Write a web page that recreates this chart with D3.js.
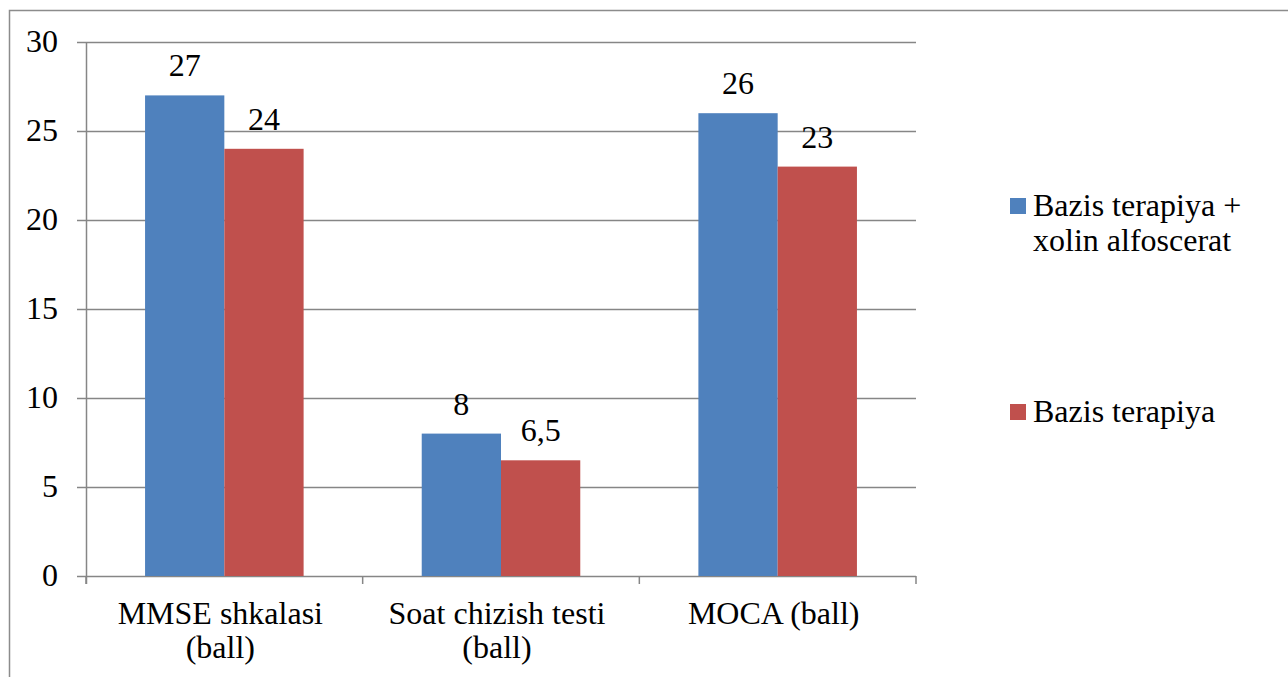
<!DOCTYPE html>
<html>
<head>
<meta charset="UTF-8" />
<script src="https://d3js.org/d3.v7.min.js"></script>
<style>
  body { margin: 0; background: #fff; }
</style>
</head>
<body>
<svg id="chart" width="1288" height="677"></svg>
<script>
// data
const categories = [["MMSE shkalasi", "(ball)"], ["Soat chizish testi", "(ball)"], ["MOCA (ball)"]];
const seriesNames = [["Bazis terapiya +", "xolin alfoscerat"], ["Bazis terapiya"]];
const seriesColors = ["#4F81BD", "#C0504D"];
const treated = [27, 8, 26];
const basic = [24, 6.5, 23];
const yTicks = [0, 5, 10, 15, 20, 25, 30];

const svg = d3.select("#chart");
const fmt = v => String(v).replace(".", ",");
const txt = sel => sel.style("font-family", "Liberation Serif").style("font-size", "32px").style("fill", "#000");

// outer frame (top + left visible)
svg.append("path").attr("d", "M9.5,677 V10.5 H1288")
  .attr("fill", "none").attr("stroke", "#8c8c8c").attr("stroke-width", 1.5);

const plotL = 86, plotR = 916, plotT = 42, plotB = 576;
const x = d3.scaleBand().domain(d3.range(categories.length)).range([plotL, plotR]);
const y = d3.scaleLinear().domain([0, 30]).range([plotB, plotT]);
const inner = d3.scaleBand().domain([0, 1]).range([0, x.bandwidth()]).paddingOuter(0.745).paddingInner(0);

// gridlines
svg.append("g").selectAll("line").data(yTicks).join("line")
  .attr("x1", plotL - 9).attr("x2", plotR)
  .attr("y1", d => y(d) + 0.5).attr("y2", d => y(d) + 0.5)
  .attr("stroke", "#868686").attr("stroke-width", 1.5);

// y labels
svg.append("g").selectAll("text").data(yTicks).join("text")
  .attr("x", 58).attr("y", d => y(d) + 10)
  .attr("text-anchor", "end").call(txt).text(d => d);

// y axis line
svg.append("line").attr("x1", plotL + 0.5).attr("x2", plotL + 0.5)
  .attr("y1", plotT).attr("y2", plotB + 8).attr("stroke", "#868686").attr("stroke-width", 1.5);

// x ticks
svg.append("g").selectAll("line").data(d3.range(categories.length + 1)).join("line")
  .attr("x1", i => plotL + i * x.bandwidth()).attr("x2", i => plotL + i * x.bandwidth())
  .attr("y1", plotB).attr("y2", plotB + 8)
  .attr("stroke", "#868686").attr("stroke-width", 1.5);

// bars
const series = [treated, basic];
series.forEach((vals, s) => {
  const g = svg.append("g");
  g.selectAll("rect").data(vals).join("rect")
    .attr("x", (d, i) => x(i) + inner(s))
    .attr("y", d => y(d))
    .attr("width", inner.bandwidth())
    .attr("height", d => y(0) - y(d))
    .attr("fill", seriesColors[s]);
  g.selectAll("text").data(vals).join("text")
    .attr("x", (d, i) => x(i) + inner(s) + inner.bandwidth() / 2)
    .attr("y", d => y(d) - 19)
    .attr("text-anchor", "middle").call(txt).text(d => fmt(d));
});

// x category labels
categories.forEach((lines, i) => {
  const t = svg.append("text").attr("text-anchor", "middle").call(txt);
  lines.forEach((ln, k) => {
    t.append("tspan").attr("x", x(i) + x.bandwidth() / 2 - 4).attr("y", 624 + k * 34).text(ln);
  });
});

// legend
const legendY = [206, 412];
seriesNames.forEach((lines, s) => {
  svg.append("rect").attr("x", 1010).attr("y", legendY[s] - 8).attr("width", 16).attr("height", 16)
    .attr("fill", seriesColors[s]);
  const t = svg.append("text").call(txt);
  lines.forEach((ln, k) => {
    t.append("tspan").attr("x", 1033).attr("y", legendY[s] + 10 + k * 35).text(ln);
  });
});
</script>
</body>
</html>
